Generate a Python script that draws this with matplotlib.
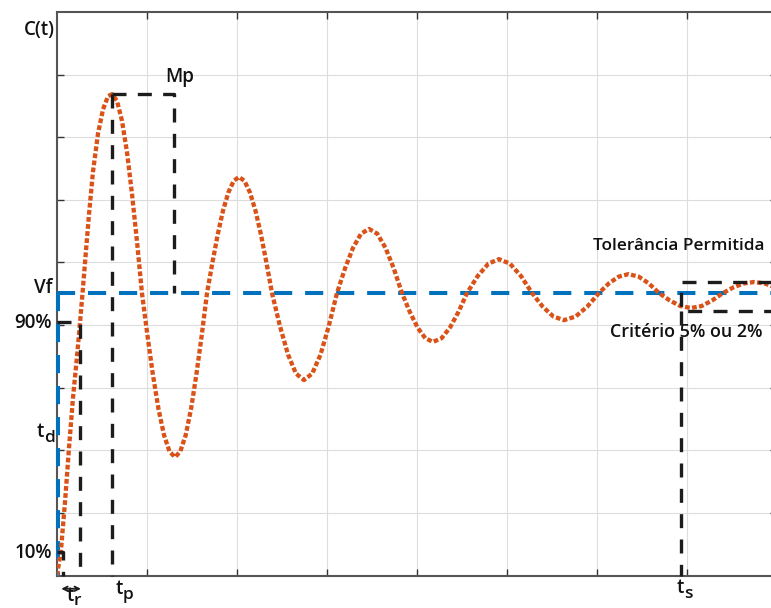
import matplotlib
matplotlib.use('Agg')
import matplotlib.pyplot as plt
import numpy as np

plt.rcParams['font.family'] = ['Open Sans', 'DejaVu Sans']

# resposta ao degrau (t em divisoes da grade, c normalizado por Vf)
t_resp = [0, 0.044, 0.089, 0.133, 0.178, 0.222, 0.256, 0.289, 0.322, 0.356, 0.400, 0.456, 0.511, 0.567, 0.611,
          0.667, 0.722, 0.778, 0.833, 0.889, 0.944,
          1.005, 1.066, 1.128, 1.189, 1.250, 1.311,
          1.370, 1.430, 1.489, 1.548, 1.608, 1.667,
          1.726, 1.785, 1.844, 1.904, 1.963, 2.022,
          2.083, 2.144, 2.206, 2.267, 2.328, 2.389,
          2.478, 2.567, 2.655, 2.744,
          2.836, 2.928, 3.019, 3.111,
          3.200, 3.289, 3.378, 3.467,
          3.559, 3.650, 3.742, 3.833,
          3.919, 4.006, 4.092, 4.178,
          4.273, 4.367, 4.462, 4.556,
          4.674, 4.793, 4.911,
          5.033, 5.156, 5.278,
          5.396, 5.515, 5.633,
          5.763, 5.892, 6.022,
          6.131, 6.241, 6.350,
          6.463, 6.576, 6.689,
          6.807, 6.926, 7.044,
          7.163, 7.281, 7.400,
          7.515, 7.630, 7.744,
          7.863, 7.980]
c_resp = [0, 0.09, 0.26, 0.45, 0.63, 0.775, 0.896, 1.02, 1.15, 1.28, 1.43, 1.565, 1.65, 1.697, 1.704,
          1.680, 1.610, 1.498, 1.352, 1.182, 1.0,
          0.850, 0.710, 0.589, 0.497, 0.439, 0.419,
          0.439, 0.497, 0.589, 0.710, 0.850, 1.0,
          1.106, 1.206, 1.291, 1.356, 1.397, 1.411,
          1.397, 1.356, 1.291, 1.206, 1.106, 1.0,
          0.882, 0.782, 0.715, 0.692,
          0.715, 0.782, 0.882, 1.0,
          1.087, 1.160, 1.210, 1.227,
          1.210, 1.160, 1.087, 1.0,
          0.934, 0.878, 0.840, 0.827,
          0.840, 0.878, 0.934, 1.0,
          1.060, 1.104, 1.120,
          1.104, 1.060, 1.0,
          0.952, 0.917, 0.904,
          0.917, 0.952, 1.0,
          1.034, 1.058, 1.067,
          1.058, 1.034, 1.0,
          0.974, 0.954, 0.947,
          0.954, 0.974, 1.0,
          1.020, 1.034, 1.039,
          1.034, 1.020]

# valores caracteristicos
vf = 1.0
c10 = 0.083
c90 = 0.896
t10 = 0.067
t_r = 0.256
t_p = 0.608
mp = 1.705
t_mp_box = 1.304
t_s = 6.933
tol_sup = 1.039
tol_inf = 0.936

orange = '#D95319'
blue = '#0072BD'
black = '#1c1c1c'

fig = plt.figure(figsize=(7.71, 6.08), dpi=100)
ax = fig.add_axes([57 / 771, 32.5 / 608, 720 / 771, 563.5 / 608])
ax.set_xlim(0, 8)
ax.set_ylim(0, 1.995)
ax.set_xticks(np.arange(1, 8))
ax.set_yticks(np.arange(1, 9) * 1.995 / 9)
ax.tick_params(direction='in', length=5, width=1, color='#333333',
               top=True, right=True, labelbottom=False, labelleft=False)
ax.grid(True, color='#dddddd', linewidth=0.8)
ax.set_axisbelow(True)
for sp in ax.spines.values():
    sp.set_color('#555555')
    sp.set_linewidth(1.5)

blue_kw = dict(color=blue, lw=2.9, dashes=(4.5, 3.2), dash_capstyle='butt', zorder=3, clip_on=False)
black_kw = dict(color=black, lw=2.4, dashes=(4.2, 3.4), dash_capstyle='butt', zorder=5, clip_on=False)

# valor final
ax.plot([0, 8], [vf, vf], **blue_kw)
ax.plot([0.015, 0.015], [vf, 0], **blue_kw)

# curva de resposta
ax.plot(t_resp, c_resp, color=orange, lw=3.1, dashes=(1.1, 0.55), dash_capstyle='butt', zorder=4)

# marcas
ax.plot([0, t_r, t_r], [c90, c90, 0], **black_kw)
ax.plot([0, t10, t10], [c10, c10, 0], **black_kw)
ax.plot([t_p, t_p], [mp, 0], **black_kw)
ax.plot([t_p, t_mp_box, t_mp_box], [mp, mp, vf], **black_kw)
ax.plot([8, t_s, t_s, 8], [tol_sup, tol_sup, tol_inf, tol_inf], **black_kw)
ax.plot([t_s, t_s], [tol_inf, 0], **black_kw)

fs = 13.5
tkw = dict(fontsize=fs, fontweight='semibold', color='#111111', va='center', clip_on=False)


def sub(x, y, base, s, dy=-0.02):
    ax.text(x, y, base, ha='right', **tkw)
    ax.text(x, y + dy, s, ha='left', **{**tkw, 'fontsize': fs - 1})


ax.text(-0.022, 1.931, 'C(t)', ha='right', **tkw)
ax.text(1.2, 1.765, 'Mp', ha='left', **tkw)
ax.text(-0.056, 1.018, 'Vf', ha='right', **tkw)
ax.text(-0.056, 0.894, '90%', ha='right', **tkw)
ax.text(-0.056, 0.08, '10%', ha='right', **tkw)
sub(-0.144, 0.508, 't', 'd')
sub(0.733, -0.048, 't', 'p')
sub(0.189, -0.074, 't', 'r', dy=-0.016)
sub(6.967, -0.044, 't', 's')
ax.text(5.96, 1.166, 'Tolerância Permitida', ha='left', **{**tkw, 'fontsize': 12.4})
ax.text(6.15, 0.862, 'Critério 5% ou 2%', ha='left', **{**tkw, 'fontsize': 12.9})

ax.annotate('', xy=(t10 - 0.02, -0.047), xytext=(t_r + 0.01, -0.047),
            arrowprops=dict(arrowstyle='<->', color=black, lw=1.3, mutation_scale=8,
                            shrinkA=0, shrinkB=0),
            annotation_clip=False)

fig.savefig('out.png', dpi=100)
